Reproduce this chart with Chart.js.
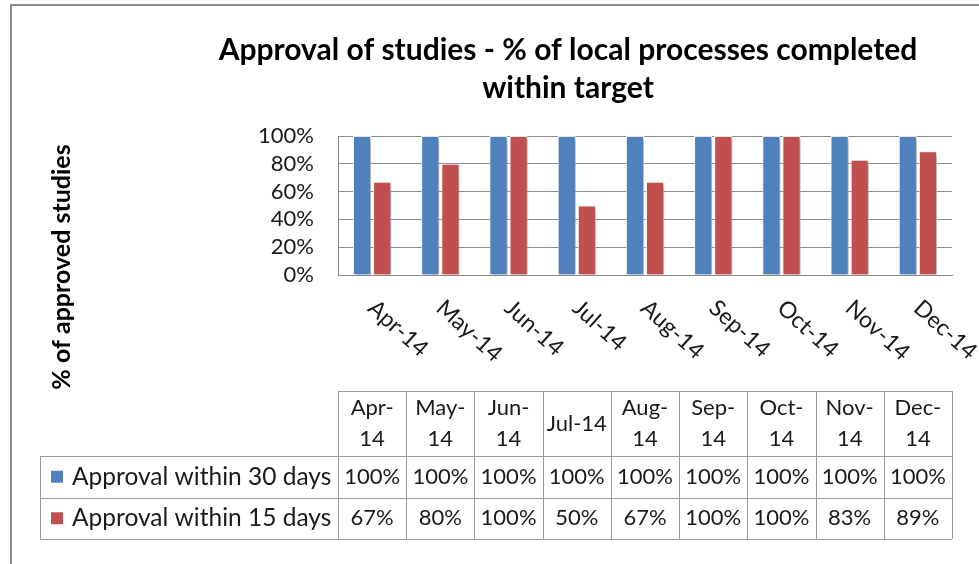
<!DOCTYPE html>
<html>
<head>
<meta charset="utf-8">
<script src="https://cdn.jsdelivr.net/npm/chart.js@4/dist/chart.umd.min.js"></script>
<style>
  html, body { margin: 0; padding: 0; background: #fff; }
</style>
</head>
<body>
<canvas id="chart" width="979" height="564"></canvas>
<script>
const months = ['Apr-14', 'May-14', 'Jun-14', 'Jul-14', 'Aug-14', 'Sep-14', 'Oct-14', 'Nov-14', 'Dec-14'];
const within30 = [100, 100, 100, 100, 100, 100, 100, 100, 100];
const within15 = [67, 80, 100, 50, 67, 100, 100, 83, 89];
const seriesNames = ['Approval within 30 days', 'Approval within 15 days'];
const seriesColors = ['#4F81BD', '#C0504D'];
const titleLines = ['Approval of studies - % of local processes completed', 'within target'];
const yTitle = '% of approved studies';

const FONT = 'Lato, "Open Sans", sans-serif';
const TEXT = '#1a1a1a';
const LINE = '#8c8c8c';

// bars get the soft drop shadow Excel puts on them
const barShadow = {
  id: 'barShadow',
  beforeDatasetsDraw(chart) {
    const ctx = chart.ctx;
    ctx.save();
    ctx.shadowColor = 'rgba(0,0,0,0.35)';
    ctx.shadowBlur = 4;
    ctx.shadowOffsetX = 2;
    ctx.shadowOffsetY = 2;
  },
  afterDatasetsDraw(chart) {
    chart.ctx.restore();
  },
};

// titles, slanted month labels, data table and frame
const extras = {
  id: 'extras',
  afterDraw(chart) {
    const ctx = chart.ctx;
    const x = chart.scales.x;
    const step = x.getPixelForValue(1) - x.getPixelForValue(0);

    ctx.save();

    // frame
    ctx.strokeStyle = LINE;
    ctx.lineWidth = 2;
    ctx.beginPath();
    ctx.moveTo(11, 564);
    ctx.lineTo(11, 5);
    ctx.lineTo(979, 5);
    ctx.stroke();

    // chart title
    ctx.fillStyle = '#000';
    ctx.font = 'bold 30px ' + FONT;
    ctx.textAlign = 'center';
    ctx.textBaseline = 'middle';
    titleLines.forEach((t, i) => ctx.fillText(t, 568, 50 + i * 38));

    // y axis title
    ctx.save();
    ctx.font = 'bold 25px ' + FONT;
    ctx.translate(62, 267);
    ctx.rotate(-Math.PI / 2);
    ctx.fillText(yTitle, 0, 0);
    ctx.restore();

    // slanted category labels
    ctx.font = '23px ' + FONT;
    ctx.fillStyle = TEXT;
    ctx.textAlign = 'left';
    ctx.textBaseline = 'top';
    months.forEach((m, i) => {
      const cx = x.getPixelForValue(i);
      ctx.save();
      ctx.translate(cx + 7, 296);
      ctx.rotate(42 * Math.PI / 180);
      ctx.fillText(m, 0, 0);
      ctx.restore();
    });

    // data table
    const top = 391, headBottom = 456, rowH = 41.5, left = 40;
    const colLeft = x.getPixelForValue(0) - step / 2;
    const colRight = x.getPixelForValue(months.length - 1) + step / 2;
    const bottom = headBottom + rowH * 2;

    ctx.strokeStyle = '#9a9a9a';
    ctx.lineWidth = 1;
    ctx.beginPath();
    ctx.moveTo(colLeft, top + 0.5);
    ctx.lineTo(colRight, top + 0.5);
    for (let r = 0; r <= 2; r++) {
      const y = Math.round(headBottom + r * rowH) + 0.5;
      ctx.moveTo(left, y);
      ctx.lineTo(colRight, y);
    }
    ctx.moveTo(left + 0.5, headBottom);
    ctx.lineTo(left + 0.5, bottom);
    for (let i = 0; i <= months.length; i++) {
      const xx = Math.round(colLeft + i * step) + 0.5;
      ctx.moveTo(xx, top);
      ctx.lineTo(xx, bottom);
    }
    ctx.stroke();

    ctx.font = '22px ' + FONT;
    ctx.fillStyle = TEXT;
    ctx.textAlign = 'center';
    ctx.textBaseline = 'middle';
    months.forEach((m, i) => {
      const cx = x.getPixelForValue(i);
      if (ctx.measureText(m).width > step - 6) {
        const cut = m.indexOf('-') + 1;
        ctx.fillText(m.slice(0, cut), cx, 408);
        ctx.fillText(m.slice(cut), cx, 439);
      } else {
        ctx.fillText(m, cx, (top + headBottom) / 2);
      }
    });

    [within30, within15].forEach((vals, r) => {
      const cy = headBottom + rowH * r + rowH / 2;
      ctx.fillStyle = seriesColors[r];
      ctx.fillRect(51, cy - 6, 12, 12);
      ctx.fillStyle = TEXT;
      ctx.textAlign = 'left';
      ctx.font = '24.5px ' + FONT;
      ctx.fillText(seriesNames[r], 72, cy);
      ctx.textAlign = 'center';
      ctx.font = '22px ' + FONT;
      vals.forEach((v, i) => ctx.fillText(v + '%', x.getPixelForValue(i), cy));
    });

    ctx.restore();
  },
};

new Chart(document.getElementById('chart').getContext('2d'), {
  type: 'bar',
  data: {
    labels: months,
    datasets: [
      {
        label: seriesNames[0],
        data: within30,
        backgroundColor: seriesColors[0],
        borderColor: 'rgba(255,255,255,0.85)',
        borderWidth: 1,
        categoryPercentage: 0.59,
        barPercentage: 0.9,
      },
      {
        label: seriesNames[1],
        data: within15,
        backgroundColor: seriesColors[1],
        borderColor: 'rgba(255,255,255,0.85)',
        borderWidth: 1,
        categoryPercentage: 0.59,
        barPercentage: 0.9,
      },
    ],
  },
  options: {
    responsive: false,
    animation: false,
    devicePixelRatio: 1,
    layout: { padding: { top: 136, right: 27, left: 0, bottom: 0 } },
    plugins: {
      legend: { display: false },
      tooltip: { enabled: false },
    },
    scales: {
      x: {
        grid: { display: false },
        border: { color: LINE, width: 1 },
        ticks: { display: false },
        afterFit(scale) { scale.height = 289; },
      },
      y: {
        min: 0,
        max: 100,
        ticks: {
          stepSize: 20,
          autoSkip: false,
          callback: v => v + '%',
          font: { family: FONT, size: 22 },
          color: TEXT,
          padding: 24,
        },
        grid: { color: LINE, drawTicks: false },
        border: { color: LINE, width: 1 },
        afterFit(scale) { scale.width = 338; },
      },
    },
  },
  plugins: [barShadow, extras],
});
</script>
</body>
</html>
